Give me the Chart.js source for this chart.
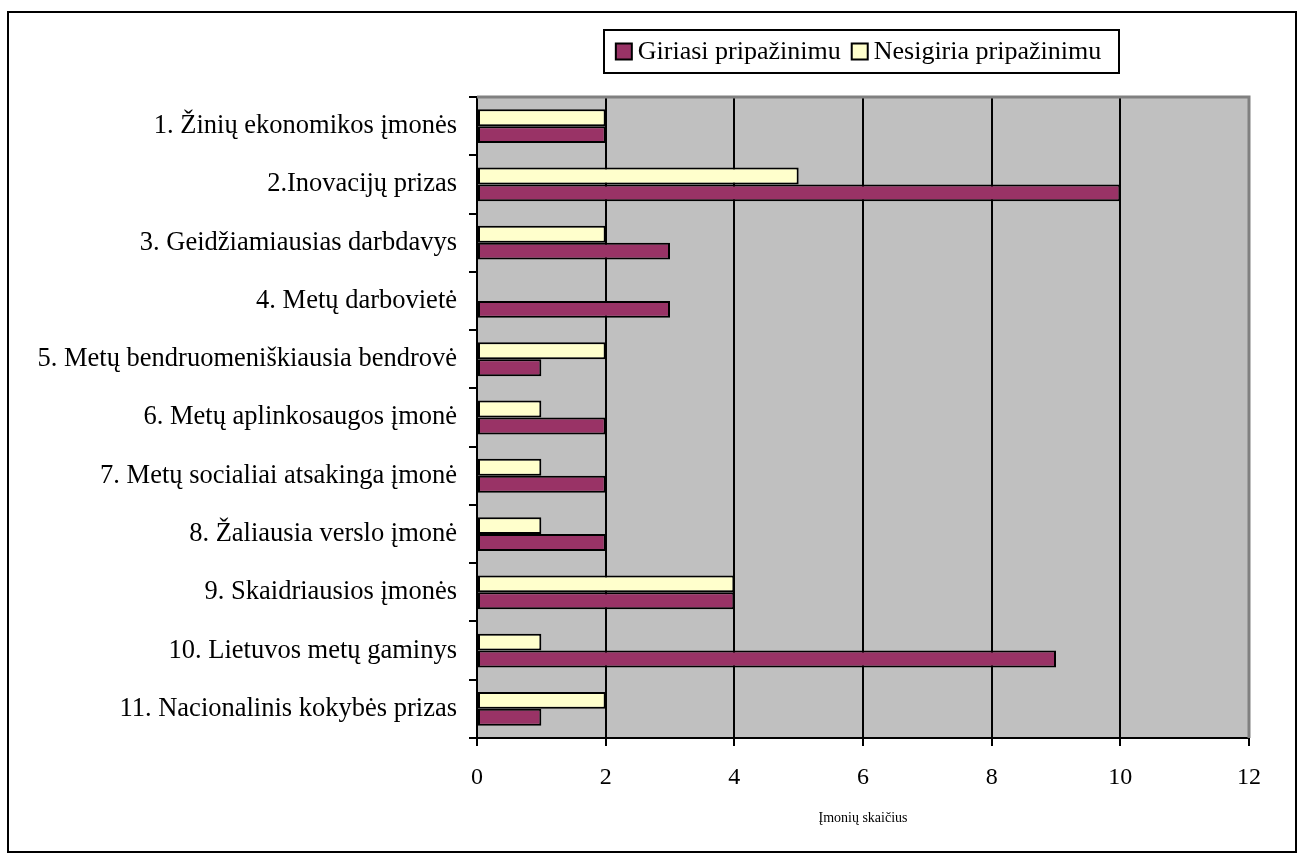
<!DOCTYPE html>
<html>
<head>
<meta charset="utf-8">
<script src="https://cdn.jsdelivr.net/npm/chart.js@4.4.0/dist/chart.umd.min.js"></script>
<style>
  html, body { margin: 0; padding: 0; background: #ffffff; }
  #wrap { position: relative; width: 1304px; height: 861px; }
</style>
</head>
<body>
<div id="wrap"><canvas id="c" width="1304" height="861"></canvas></div>
<script>
// Award categories (top to bottom)
const categories = [
  '1. Žinių ekonomikos įmonės',
  '2.Inovacijų prizas',
  '3. Geidžiamiausias darbdavys',
  '4. Metų darbovietė',
  '5. Metų bendruomeniškiausia bendrovė',
  '6. Metų aplinkosaugos įmonė',
  '7. Metų socialiai atsakinga įmonė',
  '8. Žaliausia verslo įmonė',
  '9. Skaidriausios įmonės',
  '10. Lietuvos metų gaminys',
  '11. Nacionalinis kokybės prizas'
];
// Companies that advertise the award
const giriasi = [2, 10, 3, 3, 1, 2, 2, 2, 4, 9, 1];
// Companies that do not advertise it
const nesigiria = [2, 5, 2, 0, 2, 1, 1, 1, 4, 1, 2];
const seriesNames = ['Giriasi pripažinimu', 'Nesigiria pripažinimu'];
const xTicks = [0, 2, 4, 6, 8, 10, 12];
const axisTitle = 'Įmonių skaičius';

const SERIF = "'Liberation Serif', 'Times New Roman', serif";
const PLOT = { left: 477, top: 97, right: 1249, bottom: 738 };

// gray plot background, plot frame, outer frame and boxed legend
const decor = {
  id: 'decor',
  beforeDraw(chart) {
    const { ctx, chartArea: a } = chart;
    ctx.save();
    ctx.fillStyle = '#c0c0c0';
    ctx.fillRect(a.left, a.top, a.right - a.left, a.bottom - a.top);
    ctx.restore();
  },
  afterDraw(chart) {
    const { ctx, chartArea: a } = chart;
    ctx.save();
    // top and right edges of the plot
    ctx.strokeStyle = '#808080';
    ctx.lineWidth = 3;
    ctx.beginPath();
    ctx.moveTo(a.left, a.top);
    ctx.lineTo(a.right, a.top);
    ctx.lineTo(a.right, a.bottom);
    ctx.stroke();

    // outer frame
    ctx.strokeStyle = '#000000';
    ctx.lineWidth = 2;
    ctx.strokeRect(8, 12, 1288, 840);

    // legend box
    const box = { x: 604, y: 30, w: 515, h: 43 };
    ctx.lineWidth = 2;
    ctx.strokeRect(box.x, box.y, box.w, box.h);
    ctx.font = '26px ' + SERIF;
    ctx.textBaseline = 'middle';
    ctx.textAlign = 'left';
    const items = chart.data.datasets.slice().reverse();
    const sw = 16, gapIn = 6, gapOut = 11;
    let total = 0;
    items.forEach((d, i) => {
      total += sw + gapIn + ctx.measureText(d.label).width + (i ? gapOut : 0);
    });
    let x = box.x + box.w / 2 - total / 2 - 3;
    const cy = box.y + box.h / 2;
    items.forEach((d) => {
      ctx.fillStyle = d.backgroundColor;
      ctx.fillRect(x, cy - sw / 2, sw, sw);
      ctx.strokeStyle = '#000000';
      ctx.lineWidth = 2;
      ctx.strokeRect(x, cy - sw / 2, sw, sw);
      x += sw + gapIn;
      ctx.fillStyle = '#000000';
      ctx.fillText(d.label, x, cy + 1);
      x += ctx.measureText(d.label).width + gapOut;
    });
    ctx.restore();
  }
};

new Chart(document.getElementById('c'), {
  type: 'bar',
  data: {
    labels: categories,
    datasets: [
      {
        label: seriesNames[1],
        data: nesigiria,
        backgroundColor: '#ffffcc',
        borderColor: '#000000',
        borderWidth: 2,
        borderSkipped: false
      },
      {
        label: seriesNames[0],
        data: giriasi,
        backgroundColor: '#993366',
        borderColor: '#000000',
        borderWidth: 2,
        borderSkipped: false
      }
    ]
  },
  options: {
    indexAxis: 'y',
    responsive: false,
    animation: false,
    devicePixelRatio: 1,
    categoryPercentage: 0.58,
    barPercentage: 1.0,
    layout: { padding: { top: PLOT.top, right: 1304 - PLOT.right, left: 0, bottom: 0 } },
    plugins: {
      legend: { display: false },
      tooltip: { enabled: false },
      title: { display: false }
    },
    scales: {
      x: {
        type: 'linear',
        min: xTicks[0],
        max: xTicks[xTicks.length - 1],
        afterBuildTicks(scale) {
          scale.ticks = xTicks.map(v => ({ value: v }));
        },
        afterFit(scale) { scale.height = 861 - PLOT.bottom; },
        grid: {
          color: (c) => (c.tick && c.tick.value === 12 ? '#808080' : '#000000'),
          tickColor: '#000000',
          lineWidth: 2,
          tickLength: 8,
          drawOnChartArea: true
        },
        border: { display: true, color: '#000000', width: 2 },
        ticks: {
          color: '#000000',
          font: { family: SERIF, size: 24 },
          padding: 17,
          maxRotation: 0
        },
        title: {
          display: true,
          text: axisTitle,
          color: '#000000',
          font: { family: SERIF, size: 14 },
          padding: { top: 0, bottom: 34 }
        }
      },
      y: {
        type: 'category',
        offset: true,
        afterFit(scale) { scale.width = PLOT.left; },
        grid: {
          offset: true,
          drawOnChartArea: false,
          drawTicks: true,
          tickLength: 8,
          color: '#000000',
          lineWidth: 2
        },
        border: { display: true, color: '#000000', width: 2 },
        ticks: {
          color: '#000000',
          font: { family: SERIF, size: 26.5 },
          padding: 12,
          autoSkip: false
        }
      }
    }
  },
  plugins: [decor]
});
</script>
</body>
</html>
